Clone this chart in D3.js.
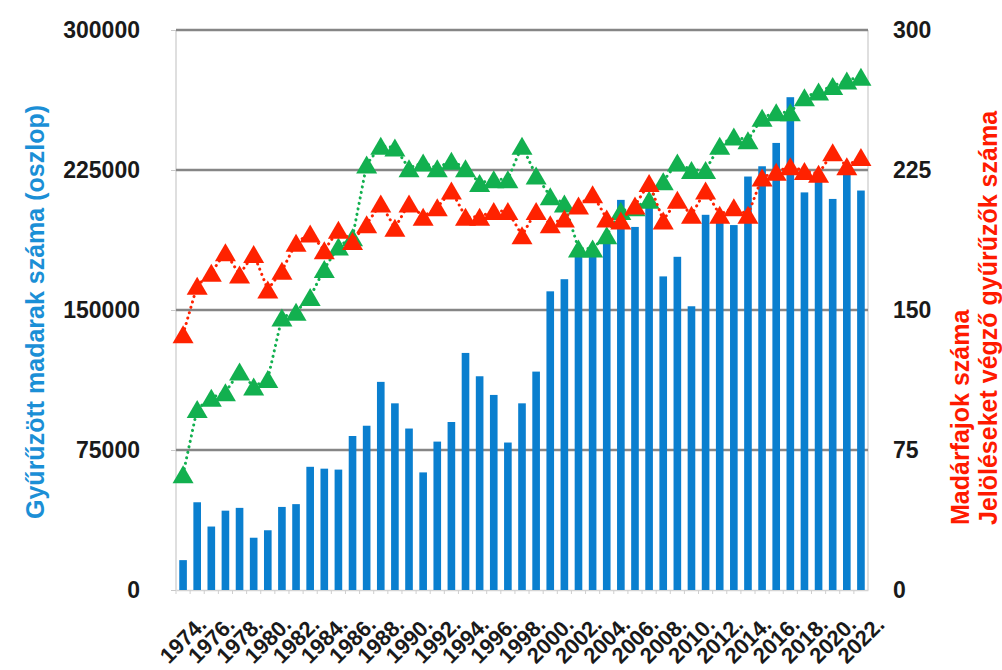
<!DOCTYPE html>
<html><head><meta charset="utf-8">
<script src="https://cdn.jsdelivr.net/npm/d3@7"></script>
<style>body{margin:0;background:#fff}svg{display:block}</style>
</head><body>
<svg id="chart" width="1002" height="670"></svg>
<script>
const years = [1974,1975,1976,1977,1978,1979,1980,1981,1982,1983,1984,1985,1986,1987,1988,1989,1990,1991,1992,1993,1994,1995,1996,1997,1998,1999,2000,2001,2002,2003,2004,2005,2006,2007,2008,2009,2010,2011,2012,2013,2014,2015,2016,2017,2018,2019,2020,2021,2022];
const ringedBirds = [16000,47000,34000,42500,44000,28000,32000,44500,46000,66000,65000,64500,82500,88000,111500,100000,86500,63000,79500,90000,127000,114500,104500,79000,100000,117000,160000,166500,182000,183000,186000,209000,194500,207000,168000,178500,152000,201000,197000,195500,221500,227000,239500,264000,213000,219000,209500,225000,214000];
const ringers = [62,97,103,106,117,109,113,146,149,157,172,184,189,228,238,237,226,229,226,230,226,218,220,220,238,222,211,207,183,183,190,203,205,209,219,229,225,225,238,243,241,253,256,256,264,267,270,273,275];
const species = [137,163,170,181,169,180,161,171,186,191,182,193,187,196,207,194,207,200,205,214,200,200,203,203,190,203,196,199,206,212,199,198,206,218,198,209,201,214,201,205,201,221,224,227,224.5,223,234.5,227,232];
const leftTicks = [0,75000,150000,225000,300000];
const rightTicks = [0,75,150,225,300];
const xLabelYears = [1974,1976,1978,1980,1982,1984,1986,1988,1990,1992,1994,1996,1998,2000,2002,2004,2006,2008,2010,2012,2014,2016,2018,2020,2022];

const svg = d3.select("#chart");
const L = 176, R = 868, T = 30, B = 590;
const font = "'Liberation Sans', Arial, sans-serif";

const x = d3.scaleBand().domain(years).range([L, R]).paddingInner(0.46).paddingOuter(0.23);
const yL = d3.scaleLinear().domain([0, 300000]).range([B, T]);
const yR = d3.scaleLinear().domain([0, 300]).range([B, T]);
const cx = d => x(d) + x.bandwidth() / 2;

// plot border lines (light)
svg.append("line").attr("x1", L).attr("x2", L).attr("y1", T).attr("y2", B).attr("stroke", "#d4d4d4").attr("stroke-width", 1.5);
svg.append("line").attr("x1", R).attr("x2", R).attr("y1", T).attr("y2", B).attr("stroke", "#d4d4d4").attr("stroke-width", 1.5);

// gridlines
svg.append("g").selectAll("line").data(leftTicks.filter(d => d > 0)).join("line")
  .attr("x1", L).attr("x2", R).attr("y1", d => yL(d)).attr("y2", d => yL(d))
  .attr("stroke", "#868686").attr("stroke-width", 2.5);

// left axis ticks & labels
const gl = svg.append("g").attr("transform", `translate(${L},0)`)
  .call(d3.axisLeft(yL).tickValues(leftTicks).tickSize(5).tickPadding(31).tickFormat(d3.format("d")));
gl.select(".domain").remove();
gl.selectAll(".tick line").attr("stroke", "#c8c8c8");
gl.selectAll("text").attr("font-family", font).attr("font-weight", "bold").attr("font-size", 23).attr("fill", "#1a1a1a");

// right axis labels
const gr = svg.append("g").attr("transform", `translate(${R},0)`)
  .call(d3.axisRight(yR).tickValues(rightTicks).tickSize(0).tickPadding(25).tickFormat(d3.format("d")));
gr.select(".domain").remove();
gr.selectAll("text").attr("font-family", font).attr("font-weight", "bold").attr("font-size", 23).attr("fill", "#1a1a1a");

// bottom axis
const gb = svg.append("g").attr("transform", `translate(0,${B})`)
  .call(d3.axisBottom(x).tickValues([]).tickSizeOuter(0));
gb.select(".domain").attr("stroke", "#d4d4d4").attr("stroke-width", 1.5);
svg.append("g").selectAll("line").data(years).join("line")
  .attr("x1", d => x(d) - x.step() * x.paddingInner() / 2).attr("x2", d => x(d) - x.step() * x.paddingInner() / 2)
  .attr("y1", B).attr("y2", B + 4).attr("stroke", "#cfcfcf").attr("stroke-width", 1);

svg.append("g").selectAll("text").data(xLabelYears).join("text")
  .attr("transform", d => `translate(${cx(d)},${B + 50}) rotate(-45)`)
  .attr("text-anchor", "middle").attr("dominant-baseline", "central")
  .attr("font-family", font).attr("font-weight", "bold").attr("font-size", 22).attr("fill", "#1a1a1a")
  .text(d => d + ".");

// bars
svg.append("g").selectAll("rect").data(years).join("rect")
  .attr("x", d => x(d)).attr("width", x.bandwidth())
  .attr("y", (d, i) => yL(ringedBirds[i])).attr("height", (d, i) => B - yL(ringedBirds[i]))
  .attr("fill", "#0a7fcf");

const tri = "M0,-9L10.5,9L-10.5,9Z";
function series(vals, color) {
  const line = d3.line().x((d, i) => cx(years[i])).y(d => yR(d));
  svg.append("path").datum(vals).attr("d", line).attr("fill", "none")
    .attr("stroke", color).attr("stroke-width", 3).attr("stroke-linecap", "round")
    .attr("stroke-dasharray", "0.1 5.5");
  svg.append("g").selectAll("path").data(vals).join("path")
    .attr("d", tri).attr("transform", (d, i) => `translate(${cx(years[i])},${yR(d)})`)
    .attr("fill", color);
}
series(ringers, "#12b04f");
series(species, "#ff2200");

// axis titles
svg.append("text").attr("transform", "translate(35,312) rotate(-90)")
  .attr("text-anchor", "middle").attr("dominant-baseline", "central")
  .attr("font-family", font).attr("font-weight", "bold").attr("font-size", 25).attr("fill", "#1b8fd6")
  .text("Gyűrűzött madarak száma (oszlop)");
svg.append("text").attr("transform", "translate(960,525) rotate(-90)")
  .attr("text-anchor", "start").attr("dominant-baseline", "central")
  .attr("font-family", font).attr("font-weight", "bold").attr("font-size", 25).attr("fill", "#ff1a00")
  .text("Madárfajok száma");
svg.append("text").attr("transform", "translate(988,525) rotate(-90)")
  .attr("text-anchor", "start").attr("dominant-baseline", "central")
  .attr("font-family", font).attr("font-weight", "bold").attr("font-size", 25).attr("fill", "#ff1a00")
  .text("Jelöléseket végző gyűrűzők száma");
</script>
</body></html>
